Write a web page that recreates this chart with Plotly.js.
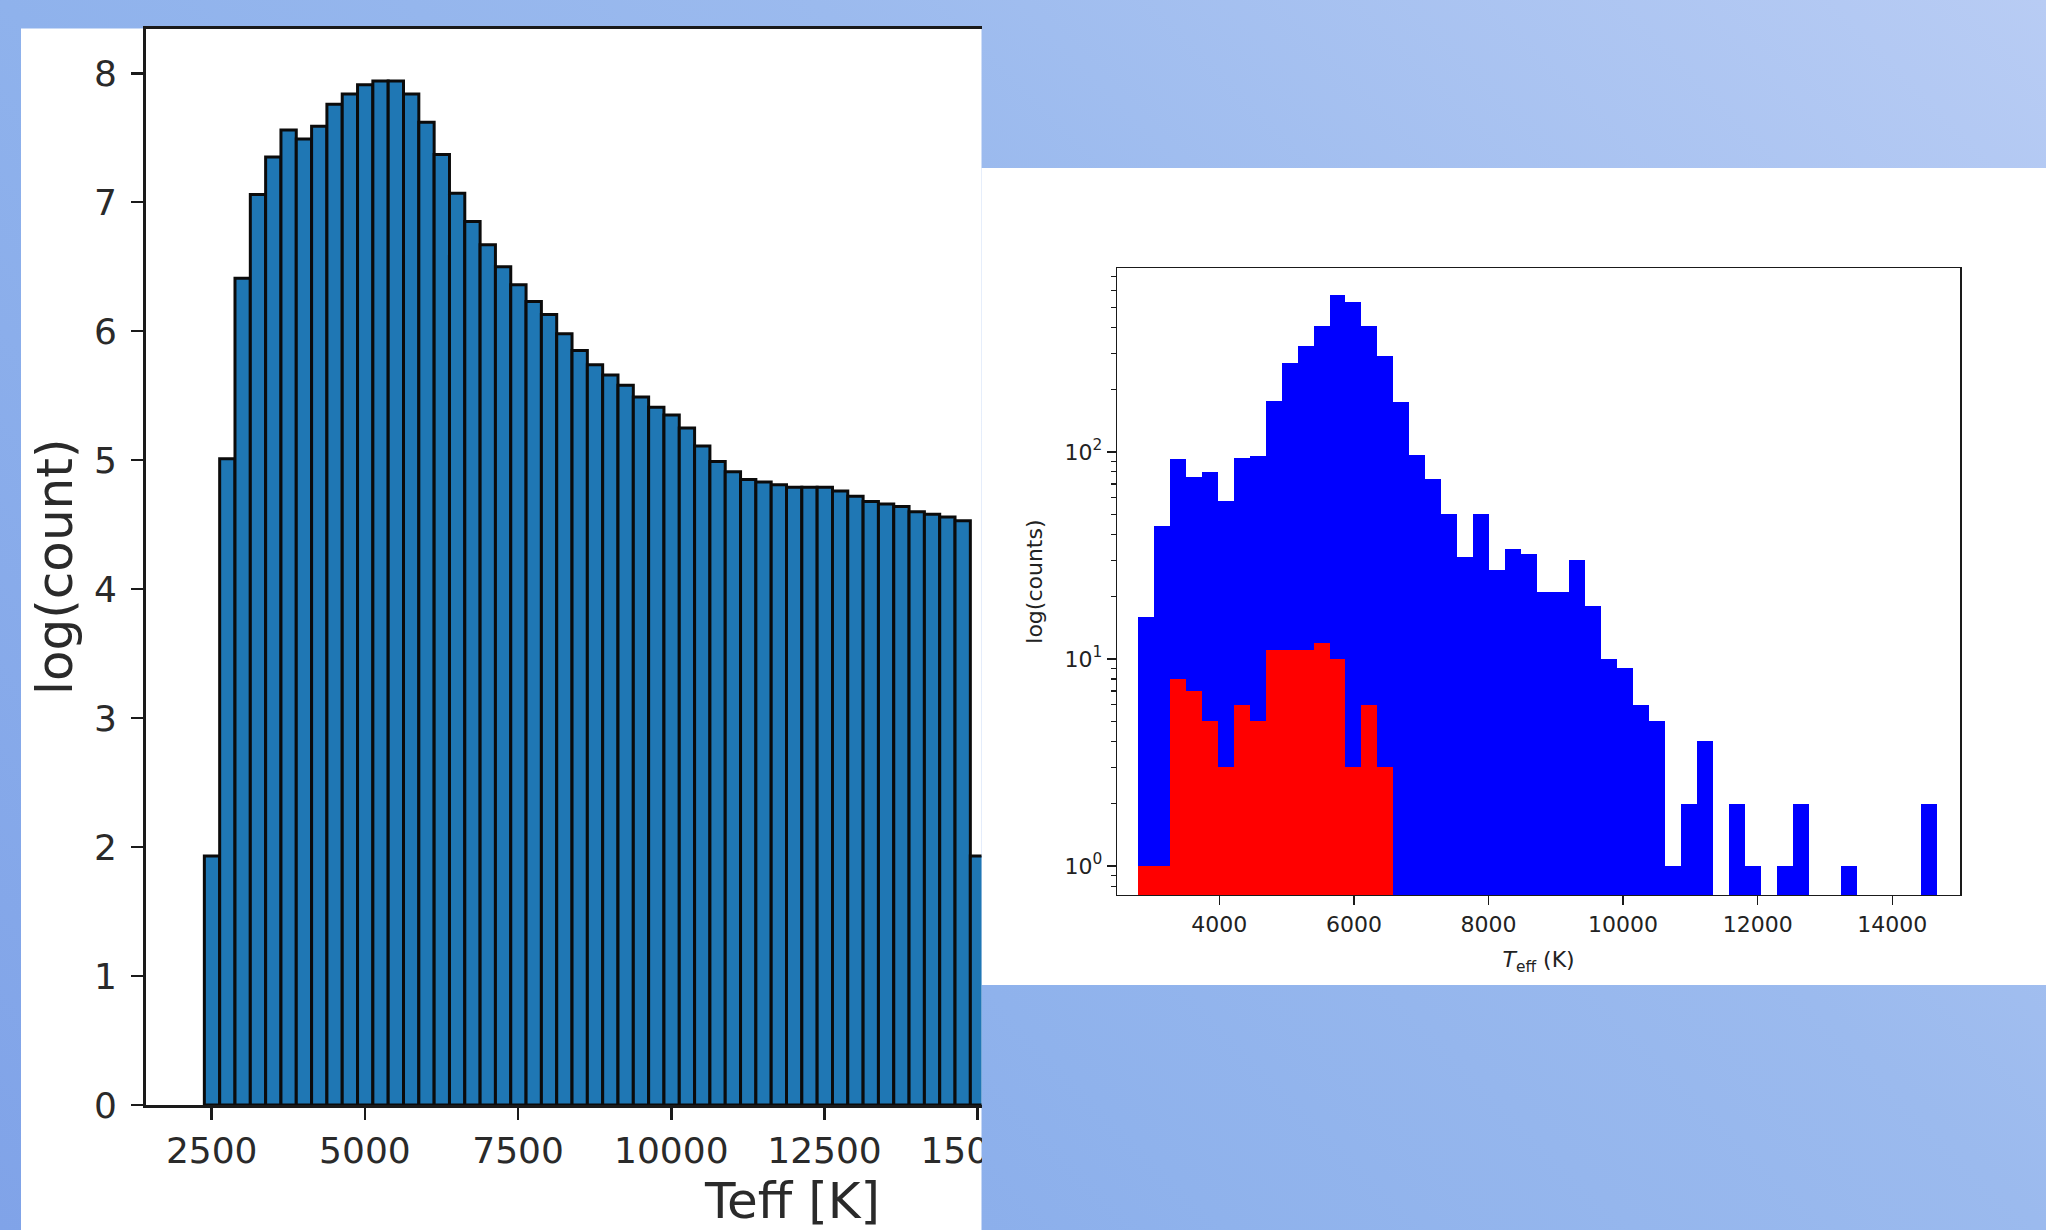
<!DOCTYPE html>
<html>
<head>
<meta charset="utf-8">
<script src="https://cdn.plot.ly/plotly-3.0.1.min.js"></script>
<style>
  html, body { margin: 0; padding: 0; width: 2046px; height: 1230px; overflow: hidden; }
  body {
    background: linear-gradient(45deg, #80a3e8 0%, #8fb2ec 37.6%, #9bbaee 62.4%, #b8ccf4 100%);
    background-attachment: fixed;
  }
  #chart { position: absolute; left: 0; top: 0; width: 2046px; height: 1230px; }
  #crop {
    position: absolute; left: 981.5px; top: 985px; width: 1065px; height: 245px;
    background: linear-gradient(45deg, #80a3e8 0%, #8fb2ec 37.6%, #9bbaee 62.4%, #b8ccf4 100%);
    background-attachment: fixed;
  }
</style>
</head>
<body>
<div id="chart"></div>
<div id="crop"></div>
<script>
// ---- Left panel: log(count) histogram of Teff (bin width 250 K) ----
const leftBinCenters = [2505, 2755, 3005, 3255, 3505, 3755, 4005, 4255, 4505, 4755,
  5005, 5255, 5505, 5755, 6005, 6255, 6505, 6755, 7005, 7255,
  7505, 7755, 8005, 8255, 8505, 8755, 9005, 9255, 9505, 9755,
  10005, 10255, 10505, 10755, 11005, 11255, 11505, 11755, 12005, 12255,
  12505, 12755, 13005, 13255, 13505, 13755, 14005, 14255, 14505, 14755, 15005];
const leftLogCounts = [1.93, 5.01, 6.41, 7.06, 7.35, 7.56, 7.49, 7.59, 7.76, 7.84,
  7.91, 7.94, 7.94, 7.84, 7.62, 7.37, 7.07, 6.85, 6.67, 6.50,
  6.36, 6.23, 6.13, 5.98, 5.85, 5.74, 5.66, 5.58, 5.49, 5.41,
  5.35, 5.25, 5.11, 4.99, 4.91, 4.85, 4.83, 4.81, 4.79, 4.79,
  4.79, 4.76, 4.72, 4.68, 4.66, 4.64, 4.60, 4.58, 4.56, 4.53, 1.93];
const leftBinWidth = 250;
const leftXTicks = [2500, 5000, 7500, 10000, 12500, 15000];
const leftXTickText = ['2500', '5000', '7500', '10000', '12500', '15000'];
const leftYTicks = [0, 1, 2, 3, 4, 5, 6, 7, 8];

// ---- Right panel: counts on log axis (bin width 237.5 K) ----
const rightBinCenters = [2906.25, 3143.75, 3381.25, 3618.75, 3856.25, 4093.75, 4331.25, 4568.75, 4806.25, 5043.75,
  5281.25, 5518.75, 5756.25, 5993.75, 6231.25, 6468.75, 6706.25, 6943.75, 7181.25, 7418.75,
  7656.25, 7893.75, 8131.25, 8368.75, 8606.25, 8843.75, 9081.25, 9318.75, 9556.25, 9793.75,
  10031.25, 10268.75, 10506.25, 10743.75, 10981.25, 11218.75, 11456.25, 11693.75, 11931.25, 12168.75,
  12406.25, 12643.75, 12881.25, 13118.75, 13356.25, 13593.75, 13831.25, 14068.75, 14306.25, 14543.75];
const blueCounts = [16, 44, 92, 76, 80, 58, 93, 95, 177, 268,
  324, 406, 574, 529, 406, 289, 174, 97, 74, 50,
  31, 50, 27, 34, 32, 21, 21, 30, 18, 10,
  9, 6, 5, 1, 2, 4, 0, 2, 1, 0,
  1, 2, 0, 0, 1, 0, 0, 0, 0, 2];
const redCounts = [1, 1, 8, 7, 5, 3, 6, 5, 11, 11, 11, 12, 10, 3, 6, 3];
const rightBinWidth = 237.5;
const rightXTicks = [4000, 6000, 8000, 10000, 12000, 14000];
const rightXTickText = ['4000', '6000', '8000', '10000', '12000', '14000'];
const rightYTicks = [1, 10, 100];
const rightYTickText = ['10<sup>0</sup>', '10<sup>1</sup>', '10<sup>2</sup>'];
const rightYMinor = [0.8, 0.9, 2, 3, 4, 5, 6, 7, 8, 9, 20, 30, 40, 50, 60, 70, 80, 90, 200, 300, 400, 500, 600, 700];

// ---- geometry (pixels in the 2046x1230 page) ----
const W = 2046, H = 1230;
const px = v => v / W;
const py = v => (H - v) / H;
const FONT = 'DejaVu Sans, sans-serif';

const traces = [
  {
    type: 'bar', x: leftBinCenters, y: leftLogCounts, width: leftBinWidth,
    xaxis: 'x', yaxis: 'y',
    marker: { color: '#1f77b4', line: { color: '#0b0b0b', width: 3 } },
    hoverinfo: 'skip', showlegend: false
  },
  {
    type: 'bar', x: rightBinCenters, y: blueCounts.map(v => v > 0 ? v : null), width: rightBinWidth,
    xaxis: 'x2', yaxis: 'y2',
    marker: { color: '#0000ff', line: { width: 0 } },
    hoverinfo: 'skip', showlegend: false
  },
  {
    type: 'bar', x: rightBinCenters.slice(0, redCounts.length), y: redCounts, width: rightBinWidth,
    xaxis: 'x2', yaxis: 'y2',
    marker: { color: '#ff0000', line: { width: 0 } },
    hoverinfo: 'skip', showlegend: false
  }
];

const leftX0 = 211.7, leftScale = 0.06128; // px position of 2500 K and px per K
const leftRange = [2500 - (leftX0 - 145.7) / leftScale, 2500 + (981.5 - leftX0) / leftScale];

const layout = {
  width: W, height: H,
  margin: { l: 0, r: 0, t: 0, b: 0, pad: 0 },
  paper_bgcolor: 'rgba(0,0,0,0)',
  plot_bgcolor: 'rgba(0,0,0,0)',
  barmode: 'overlay', bargap: 0,
  font: { family: FONT, color: '#262626' },
  shapes: [
    { type: 'rect', xref: 'paper', yref: 'paper', layer: 'below',
      x0: px(21), x1: px(981.5), y0: 0, y1: py(28.5),
      fillcolor: '#ffffff', line: { width: 0 } },
    { type: 'rect', xref: 'paper', yref: 'paper', layer: 'below',
      x0: px(981.5), x1: 1, y0: py(985), y1: py(168),
      fillcolor: '#ffffff', line: { width: 0 } }
  ],
  xaxis: {
    domain: [px(145.7), px(981.5)], anchor: 'y',
    range: leftRange, tickmode: 'array', tickvals: leftXTicks, ticktext: leftXTickText,
    showgrid: false, zeroline: false,
    showline: true, mirror: true, linecolor: '#1a1a1a', linewidth: 2.5,
    ticks: 'outside', ticklen: 12, tickwidth: 2.5, tickcolor: '#1a1a1a',
    tickfont: { family: FONT, size: 36, color: '#2a2a2a' }, ticklabelstandoff: 0
  },
  yaxis: {
    domain: [py(1105), py(28.5)], anchor: 'x',
    range: [0, 8.347], tickmode: 'array', tickvals: leftYTicks,
    showgrid: false, zeroline: false,
    showline: true, mirror: false, linecolor: '#1a1a1a', linewidth: 2.5,
    ticks: 'outside', ticklen: 12, tickwidth: 2.5, tickcolor: '#1a1a1a',
    tickfont: { family: FONT, size: 36, color: '#2a2a2a' }, ticklabelstandoff: 7,
    title: { text: 'log(count)', font: { family: FONT, size: 50, color: '#2a2a2a' }, standoff: 6 }
  },
  xaxis2: {
    domain: [px(1117), px(1960.3)], anchor: 'y2',
    range: [2480, 15010], tickmode: 'array', tickvals: rightXTicks, ticktext: rightXTickText,
    showgrid: false, zeroline: false,
    showline: true, mirror: true, linecolor: '#1a1a1a', linewidth: 1.4,
    ticks: 'outside', ticklen: 9, tickwidth: 1.4, tickcolor: '#1a1a1a',
    tickfont: { family: FONT, size: 22, color: '#222' }, ticklabelstandoff: 0,
    title: { text: '<i>T</i><sub>eff</sub> (K)', font: { family: FONT, size: 22, color: '#222' }, standoff: 16 }
  },
  yaxis2: {
    domain: [py(895), py(268.2)], anchor: 'x2',
    type: 'log', range: [-0.140, 2.887],
    tickmode: 'array', tickvals: rightYTicks, ticktext: rightYTickText,
    showgrid: false, zeroline: false,
    showline: true, mirror: true, linecolor: '#1a1a1a', linewidth: 1.4,
    ticks: 'outside', ticklen: 9, tickwidth: 1.4, tickcolor: '#1a1a1a',
    minor: { tickmode: 'array', tickvals: rightYMinor, ticks: 'outside', ticklen: 5, tickwidth: 1.1, tickcolor: '#1a1a1a', showgrid: false },
    tickfont: { family: FONT, size: 22, color: '#222' },
    title: { text: 'log(counts)', font: { family: FONT, size: 22, color: '#222' }, standoff: 15 }
  },
  annotations: [
    { xref: 'paper', yref: 'paper', x: px(792), y: py(1201), xanchor: 'center', yanchor: 'middle',
      text: 'Teff [K]', showarrow: false, font: { family: FONT, size: 50, color: '#2a2a2a' } }
  ]
};

Plotly.newPlot('chart', traces, layout, { staticPlot: true, displayModeBar: false });
</script>
</body>
</html>
